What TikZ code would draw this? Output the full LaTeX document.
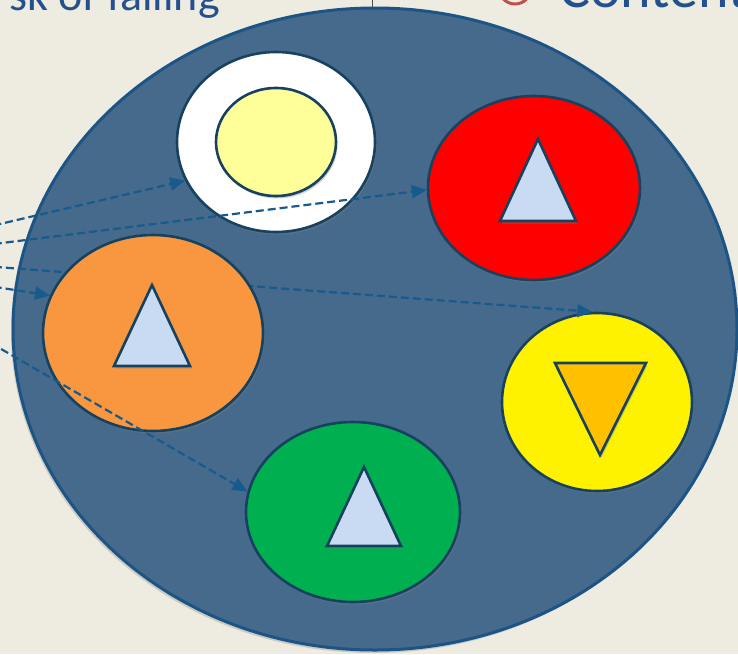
\documentclass[tikz,border=0pt]{standalone}
\usepackage{fontspec}
\newfontfamily\carl{Carlito}
\usetikzlibrary{shapes.geometric,arrows.meta,shadows,calc}
\definecolor{bg}{HTML}{EEEBE1}
\definecolor{bigfill}{HTML}{466A8C}
\definecolor{bigedge}{HTML}{1C5486}
\definecolor{edge}{HTML}{17425F}
\definecolor{connc}{HTML}{175A8C}
\definecolor{txtblue}{HTML}{24508E}
\definecolor{ringred}{HTML}{C0504D}
\definecolor{orangef}{HTML}{F8973F}
\definecolor{greenf}{HTML}{00B050}
\definecolor{paleyel}{HTML}{FFFF99}
\definecolor{trifill}{HTML}{C9DBF3}
\definecolor{ambertri}{HTML}{FFC000}
\tikzset{
  blob/.style={ellipse, draw=edge, line width=2.6pt, inner sep=0pt,
    drop shadow={shadow xshift=1.5pt, shadow yshift=-2.5pt, opacity=.35}},
  tri/.style={draw=edge, line width=2.6pt, fill=trifill, line join=miter,
    drop shadow={shadow xshift=1.5pt, shadow yshift=-2.5pt, opacity=.35}},
  conn/.style={draw=connc, line width=2.2pt, dash pattern=on 8pt off 4pt,
    -{Triangle[length=15pt,width=13pt]}},
  toptext/.style={inner sep=0pt, text=txtblue}
}
\begin{document}
\begin{tikzpicture}[x=1pt,y=-1pt]
\useasboundingbox (0,0) rectangle (738,654);
\clip (0,0) rectangle (738,654);
\fill[bg] (0,0) rectangle (738,654);

% top texts (cut by the page edge)
\node[toptext, anchor=base east, font=\carl\fontsize{46}{46}\selectfont] (t1) at (220,10) {sk of failing};
\node[toptext, anchor=base west, font=\carl\fontsize{58}{58}\selectfont] (t2) at (559,7) {Content};
\node[circle, draw=ringred, line width=3pt, minimum size=32pt, inner sep=0pt] (ring) at (515,-12) {};

% big ellipse
\node[ellipse, fill=bigfill, draw=bigedge, line width=3pt, inner sep=0pt,
      minimum width=724pt, minimum height=642pt,
      drop shadow={shadow xshift=-2pt, shadow yshift=-3pt, opacity=.3}] (big) at (375,329) {};
\coordinate (topline) at (372,0);
\draw[black!70, line width=0.8pt] (topline) -- (372,8);

% start points of the dashed connectors (off the left edge)
\coordinate (s1) at (-30,231);
\coordinate (s2) at (-30,247);
\coordinate (s3) at (-30,265);
\coordinate (s4) at (-30,283);
\coordinate (s5) at (-30,331);

% yellow (right) ellipse first, connector 3 behind the orange one
\node[blob, fill=yellow, minimum width=190pt, minimum height=178pt] (yel) at (597,402) {};
\draw[conn] (s3) -- (yel.93);

% other ellipses
\node[blob, fill=white, minimum width=198pt, minimum height=180pt] (white) at (276,142) {};
\node[blob, fill=paleyel, minimum width=120pt, minimum height=108pt] (inner) at (276,142) {};
\node[blob, fill=red, minimum width=212pt, minimum height=184pt] (red) at (534,188) {};
\node[blob, fill=orangef, minimum width=220pt, minimum height=196pt] (orange) at (153,333) {};
\node[blob, fill=greenf, minimum width=214pt, minimum height=180pt] (green) at (353,512) {};

% triangles
\draw[tri] (538,139) -- (576,221) -- (500,221) -- cycle;
\draw[tri] (152,285) -- (190,366) -- (114,366) -- cycle;
\draw[tri] (364,467) -- (401,546) -- (327,546) -- cycle;
\draw[tri, fill=ambertri] (555,363) -- (646,363) -- (600,455) -- cycle;

% dashed connectors
\draw[conn] (s1) -- (white.203);
\draw[conn] (s2) -- (red.181);
\draw[conn] (s4) -- (orange.160);
\draw[conn] (s5) -- (green.169);
\end{tikzpicture}
\end{document}
